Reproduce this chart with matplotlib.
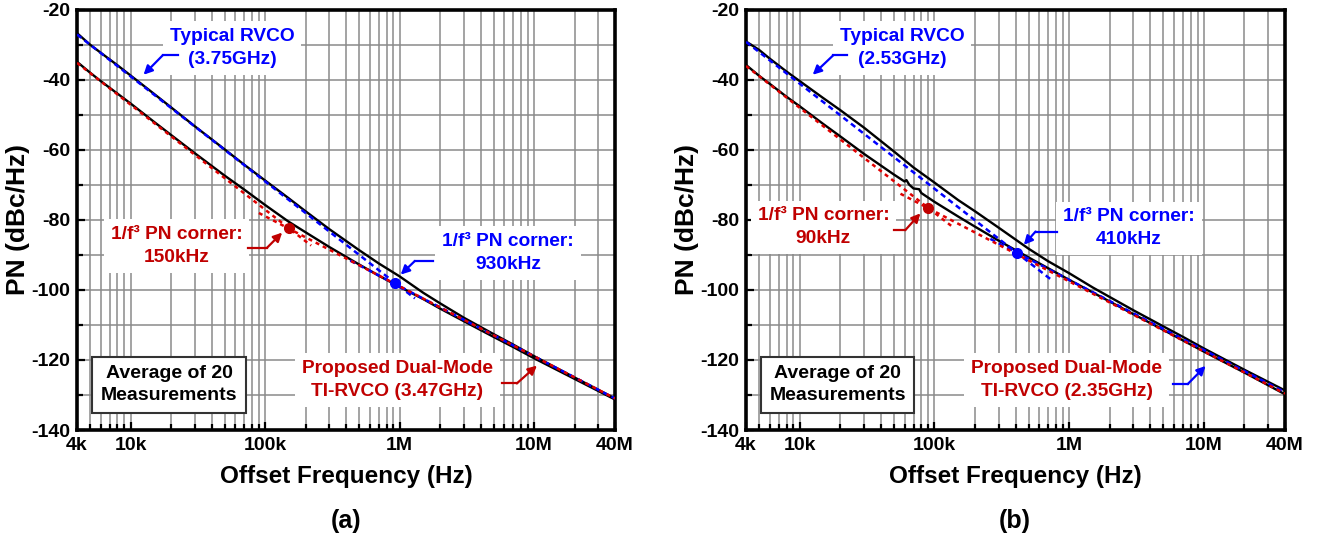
import matplotlib
matplotlib.use('Agg')
import matplotlib.pyplot as plt
from matplotlib.ticker import FixedLocator, NullFormatter

plt.rcParams['font.family'] = ['Liberation Sans', 'DejaVu Sans']
plt.rcParams['font.weight'] = 'bold'
plt.rcParams['axes.unicode_minus'] = False

# ---- data ----
freq = [4e3, 5e3, 6e3, 8e3, 1e4, 1.5e4, 2e4, 3e4, 5e4, 7e4, 1e5, 1.5e5, 2e5,
        3e5, 5e5, 7e5, 1e6, 1.5e6, 2e6, 3e6, 5e6, 7e6, 1e7, 2e7, 4e7]

# (a) typical RVCO 3.75GHz, proposed 3.47GHz
typ_a = [-26.6, -29.9, -32.2, -35.8, -38.7, -44.0, -47.8, -53.2, -59.8, -64.2,
         -68.7, -73.8, -77.5, -82.6, -88.6, -92.4, -96.1, -100.8, -103.8, -107.9,
         -112.6, -115.6, -118.9, -125.0, -131.0]
prop_a = [-34.8, -37.9, -40.3, -43.9, -46.7, -52.0, -55.7, -60.9, -67.3, -71.3,
          -75.7, -80.5, -83.5, -87.7, -92.7, -95.9, -99.1, -102.6, -105.3, -108.9,
          -113.4, -116.3, -119.5, -125.4, -131.3]

# (b) typical RVCO 2.53GHz, proposed 2.35GHz
typ_b = [-29.0, -31.4, -33.9, -37.6, -40.3, -45.2, -48.6, -53.6, -60.4, -65.0,
         -69.3, -74.3, -77.5, -82.2, -88.2, -91.8, -95.2, -99.3, -102.0, -105.8,
         -110.4, -113.4, -116.7, -122.8, -128.7]
freq_pb = [4e3, 5e3, 6e3, 8e3, 1e4, 1.5e4, 2e4, 3e4, 5e4, 6e4, 6.2e4, 6.5e4, 7e4,
           7.7e4, 8e4, 1e5, 1.5e5, 2e5, 3e5, 5e5, 7e5, 1e6, 2e6, 3e6, 5e6, 1e7,
           2e7, 4e7]
prop_b = [-35.7, -38.8, -41.1, -44.8, -47.5, -52.6, -56.1, -61.1, -67.0, -69.0,
          -68.6, -69.9, -71.0, -71.2, -72.3, -74.8, -79.0, -81.9, -85.9, -90.7,
          -93.8, -97.1, -103.3, -106.9, -111.4, -117.6, -123.6, -129.8]

# asymptote lines (1/f^3 and 1/f^2) and corner points
blue_f3_a = ([4e3, 1.3e6], [-27.0, -102.4])
blue_f2_a = ([4.3e5, 4e7], [-91.6, -131.0])
red_f3_a = ([4e3, 2.2e5], [-35.1, -87.3])
red_f2_a = ([9e4, 4e7], [-78.0, -131.0])
corner_blue_a = (9.3e5, -98.0)
corner_red_a = (1.5e5, -82.3)

blue_f3_b = ([4e3, 7.5e5], [-29.1, -97.3])
blue_f2_b = ([2.6e5, 4e7], [-85.4, -129.2])
red_f3_b = ([4e3, 1.4e5], [-36.0, -82.3])
red_f2_b = ([5.6e4, 4e7], [-72.5, -129.6])
corner_blue_b = (4.1e5, -89.4)
corner_red_b = (9e4, -76.6)

xtick_vals = [4e3, 1e4, 1e5, 1e6, 1e7, 4e7]
xtick_labels = ['4k', '10k', '100k', '1M', '10M', '40M']

BLUE = '#0000ff'
RED = '#c00000'
ANN = 13.8


def arrow(ax, tail, knee, tip, color):
    ax.plot([tail[0], knee[0]], [tail[1], knee[1]], color=color, lw=1.6, zorder=6)
    ax.annotate('', xy=tip, xytext=knee,
                arrowprops=dict(arrowstyle='-|>', color=color, lw=1.6,
                                mutation_scale=13, shrinkA=0, shrinkB=0), zorder=6)


def label(ax, x, y, s, color):
    ax.text(x, y, s, ha='center', va='center', color=color, fontsize=ANN,
            fontweight='bold', linespacing=1.45, zorder=5,
            bbox=dict(facecolor='white', edgecolor='none', pad=5))


def panel(ax, typ, pf, prop, bf3, bf2, rf3, rf2, cb, cr):
    ax.set_xscale('log')
    ax.plot(freq, typ, color='black', lw=1.7, zorder=3)
    ax.plot(pf, prop, color='black', lw=1.7, zorder=3)
    ax.plot(bf3[0], bf3[1], color=BLUE, lw=1.8, ls=(0, (2.2, 1.6)), zorder=4)
    ax.plot(bf2[0], bf2[1], color=BLUE, lw=1.8, ls=(0, (2.2, 1.6)), zorder=4)
    ax.plot(rf3[0], rf3[1], color='#e00000', lw=1.8, ls=(0, (1.6, 1.6)), zorder=4)
    ax.plot(rf2[0], rf2[1], color='#e00000', lw=1.8, ls=(0, (1.6, 1.6)), zorder=4)
    ax.plot(*cb, 'o', color=BLUE, ms=7, zorder=6)
    ax.plot(*cr, 'o', color=RED, ms=7, zorder=6)

    ax.set_xlim(4e3, 4e7)
    ax.set_ylim(-140, -20)
    ax.xaxis.set_major_locator(FixedLocator(xtick_vals))
    ax.set_xticklabels(xtick_labels, fontsize=14, fontweight='bold')
    minors = [m * 10 ** e for e in range(3, 8) for m in range(2, 10)]
    ax.xaxis.set_minor_locator(FixedLocator(minors))
    ax.xaxis.set_minor_formatter(NullFormatter())
    ax.yaxis.set_major_locator(FixedLocator(range(-140, -19, 20)))
    ax.yaxis.set_minor_locator(FixedLocator(range(-130, -20, 20)))
    for t in ax.get_yticklabels():
        t.set_fontsize(14)
        t.set_fontweight('bold')
    ax.tick_params(which='both', direction='in', top=False, right=False, width=1.6)
    ax.tick_params(which='major', length=6, pad=5)
    ax.tick_params(which='minor', length=4)
    ax.grid(which='both', color='#8a8a8a', lw=1.1)
    ax.set_axisbelow(True)
    for s in ax.spines.values():
        s.set_linewidth(2.6)
    ax.set_xlabel('Offset Frequency (Hz)', fontsize=17.5, fontweight='bold')
    ax.xaxis.set_label_coords(0.5, -(465 - 430) / 420, transform=ax.transAxes)
    ax.set_ylabel('PN (dBc/Hz)', fontsize=19, fontweight='bold')
    ax.yaxis.set_label_coords(-47 / 538, 0.5, transform=ax.transAxes)


fig = plt.figure(figsize=(13.23, 5.4), dpi=100)
ax1 = fig.add_axes([0.0582, 0.2037, 0.4067, 0.7778])
ax2 = fig.add_axes([0.5639, 0.2037, 0.4074, 0.7778])

panel(ax1, typ_a, freq, prop_a, blue_f3_a, blue_f2_a, red_f3_a, red_f2_a,
      corner_blue_a, corner_red_a)
panel(ax2, typ_b, freq_pb, prop_b, blue_f3_b, blue_f2_b, red_f3_b, red_f2_b,
      corner_blue_b, corner_red_b)

# panel (a) annotations
label(ax1, 5.7e4, -30.8, 'Typical RVCO\n(3.75GHz)', BLUE)
arrow(ax1, (2.25e4, -32.9), (1.74e4, -32.9), (1.25e4, -38.5), BLUE)
label(ax1, 2.2e4, -87.4, '1/f\u00b3 PN corner:\n150kHz', RED)
arrow(ax1, (7.5e4, -88.0), (1.03e5, -88.0), (1.34e5, -83.6), RED)
label(ax1, 6.4e6, -89.5, '1/f\u00b3 PN corner:\n930kHz', BLUE)
arrow(ax1, (1.77e6, -91.7), (1.3e6, -91.7), (1.02e6, -95.6), BLUE)
label(ax1, 9.6e5, -125.7, 'Proposed Dual-Mode\nTI-RVCO (3.47GHz)', RED)
arrow(ax1, (5.75e6, -126.7), (7.44e6, -126.7), (1.05e7, -121.6), RED)
ax1.text(1.93e4, -127.1, 'Average of 20\nMeasurements', ha='center', va='center',
         fontsize=14, fontweight='bold', linespacing=1.4, zorder=5,
         bbox=dict(facecolor='white', edgecolor='#333333', lw=1.5, pad=6))

# panel (b) annotations
label(ax2, 5.75e4, -30.8, 'Typical RVCO\n(2.53GHz)', BLUE)
arrow(ax2, (2.24e4, -32.9), (1.78e4, -32.9), (1.25e4, -38.5), BLUE)
label(ax2, 1.5e4, -82.1, '1/f\u00b3 PN corner:\n90kHz', RED)
arrow(ax2, (4.98e4, -82.9), (6.08e4, -82.9), (7.87e4, -78.1), RED)
label(ax2, 2.77e6, -82.4, '1/f\u00b3 PN corner:\n410kHz', BLUE)
arrow(ax2, (8.16e5, -83.3), (5.63e5, -83.3), (4.61e5, -87.1), BLUE)
label(ax2, 9.6e5, -125.7, 'Proposed Dual-Mode\nTI-RVCO (2.35GHz)', RED)
arrow(ax2, (5.85e6, -126.9), (7.57e6, -126.9), (1.03e7, -121.7), BLUE)
ax2.text(1.91e4, -127.1, 'Average of 20\nMeasurements', ha='center', va='center',
         fontsize=14, fontweight='bold', linespacing=1.4, zorder=5,
         bbox=dict(facecolor='white', edgecolor='#333333', lw=1.5, pad=6))

fig.text(346 / 1323, 1 - 521 / 540, '(a)', ha='center', va='center', fontsize=18,
         fontweight='bold')
fig.text(1015 / 1323, 1 - 521 / 540, '(b)', ha='center', va='center', fontsize=18,
         fontweight='bold')

fig.savefig('out.png', dpi=100)
